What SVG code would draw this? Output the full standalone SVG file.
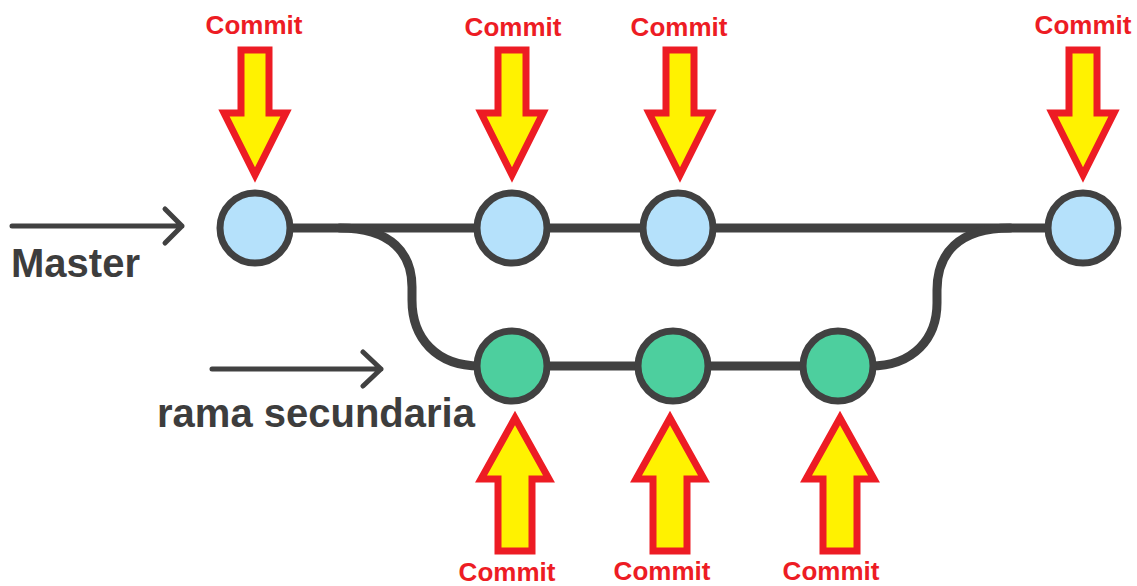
<svg xmlns="http://www.w3.org/2000/svg" width="1137" height="586" viewBox="0 0 1137 586">
<style>
.edge{fill:none;stroke:#414141;stroke-width:9;stroke-linecap:round}
.ptr{fill:none;stroke:#414141;stroke-width:5;stroke-linecap:round;stroke-linejoin:round}
.master{fill:#b5e1fb;stroke:#414141;stroke-width:7}
.branch{fill:#4dcf9e;stroke:#414141;stroke-width:7}
.commit{fill:#fff200;stroke:#ed1c24;stroke-width:7;stroke-linejoin:miter;stroke-miterlimit:10}
.clbl{font-family:"Liberation Sans",Arial,sans-serif;font-weight:bold;font-size:26px;fill:#ed1c24;text-anchor:middle}
.blbl{font-family:"Liberation Sans",Arial,sans-serif;font-weight:bold;font-size:40px;fill:#3d3d3d}
</style>
<defs>
<path id="down" d="M -14 -125 H 14 V -62 H 31 L 0 0 L -31 -62 H -14 Z"/>
<path id="up" d="M 0 0 L 34 61 H 17 V 133 H -17 V 61 H -34 Z"/>
</defs>
<g id="connectors">
<path class="edge" d="M 256 228 H 1083"/>
<path class="edge" d="M 512 366 H 838"/>
<path class="edge" d="M 340 228 C 392 228 412 254 412 287 L 412 300 C 412 338 436 366 480 366"/>
<path class="edge" d="M 870 366 C 914 366 937 338 937 303 L 937 290 C 937 254 958 228 1010 228"/>
</g>
<g id="label-master">
<path class="ptr" d="M 12 226 H 182 M 165 209 L 182 226 L 165 243"/>
<text class="blbl" x="11" y="277">Master</text>
</g>
<g id="label-rama">
<path class="ptr" d="M 212 369 H 381 M 363 352 L 381 369 L 363 386"/>
<text class="blbl" x="157" y="427">rama secundaria</text>
</g>
<g id="m1"><circle class="master" cx="255" cy="228" r="35"/></g>
<g id="m2"><circle class="master" cx="512" cy="228" r="35"/></g>
<g id="m3"><circle class="master" cx="678" cy="228" r="35"/></g>
<g id="m4"><circle class="master" cx="1083" cy="228" r="35"/></g>
<g id="b1"><circle class="branch" cx="512" cy="366" r="35"/></g>
<g id="b2"><circle class="branch" cx="673" cy="366" r="35"/></g>
<g id="b3"><circle class="branch" cx="838" cy="366" r="35"/></g>
<g id="c1"><use href="#down" class="commit" x="255" y="175"/><text class="clbl" x="254" y="34">Commit</text></g>
<g id="c2"><use href="#down" class="commit" x="512" y="175"/><text class="clbl" x="513" y="36">Commit</text></g>
<g id="c3"><use href="#down" class="commit" x="680" y="175"/><text class="clbl" x="679" y="36">Commit</text></g>
<g id="c4"><use href="#down" class="commit" x="1083" y="175"/><text class="clbl" x="1083" y="34">Commit</text></g>
<g id="c5"><use href="#up" class="commit" x="515" y="418"/><text class="clbl" x="507" y="581">Commit</text></g>
<g id="c6"><use href="#up" class="commit" x="670" y="418"/><text class="clbl" x="662" y="580">Commit</text></g>
<g id="c7"><use href="#up" class="commit" x="840" y="418"/><text class="clbl" x="831" y="580">Commit</text></g>
</svg>
